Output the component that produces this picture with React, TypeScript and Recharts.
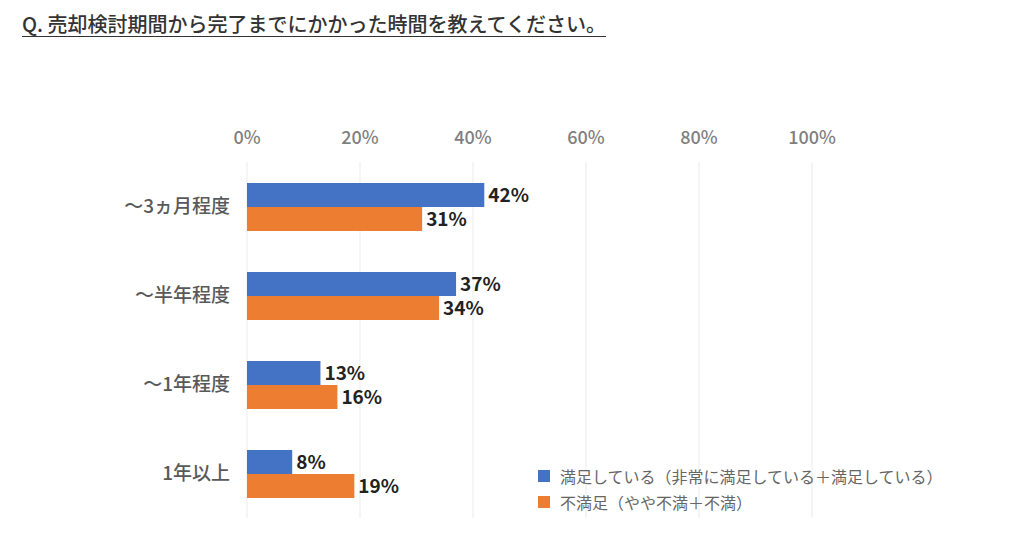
import { BarChart, Bar, XAxis, YAxis, CartesianGrid, LabelList } from 'recharts'

const categories = ['～3ヵ月程度', '～半年程度', '～1年程度', '1年以上']
const satisfied = [0.42, 0.37, 0.13, 0.08]
const unsatisfied = [0.31, 0.34, 0.16, 0.19]
const xTicks = [0, 0.2, 0.4, 0.6, 0.8, 1]

const SERIES = [
  { key: 'satisfied', name: '満足している（非常に満足している＋満足している）', color: '#4472C4' },
  { key: 'unsatisfied', name: '不満足（やや不満＋不満）', color: '#ED7D31' },
]

const data = categories.map((name, i) => ({
  name,
  satisfied: satisfied[i],
  unsatisfied: unsatisfied[i],
}))

const FONT = '"Noto Sans CJK JP", "Noto Sans", sans-serif'
const pct = (v: number) => `${Math.round(v * 100)}%`

// legend sits over the lower right of the plot, outside recharts' layout
function LegendBox() {
  return (
    <div
      style={{
        position: 'absolute',
        left: 538,
        top: 463,
        fontFamily: FONT,
        fontSize: 16,
        color: '#666',
        lineHeight: '26px',
        whiteSpace: 'nowrap',
      }}
    >
      {SERIES.map(s => (
        <div key={s.key} style={{ display: 'flex', alignItems: 'center' }}>
          <span style={{ width: 12, height: 12, background: s.color, marginRight: 10, display: 'inline-block' }} />
          {s.name}
        </div>
      ))}
    </div>
  )
}

export default function App() {
  return (
    <div style={{ position: 'absolute', left: 0, top: 0, width: 1024, height: 538, background: '#fff' }}>
      <div
        style={{
          position: 'absolute',
          left: 22,
          top: 12,
          width: 584,
          fontFamily: FONT,
          fontSize: 20,
          fontWeight: 500,
          color: '#333',
          borderBottom: '1.5px solid #333',
          lineHeight: '24px',
          whiteSpace: 'nowrap',
        }}
      >
        Q. 売却検討期間から完了までにかかった時間を教えてください。
      </div>
      <BarChart
        width={1024}
        height={538}
        data={data}
        layout="vertical"
        margin={{ top: 132, right: 212, bottom: 20, left: 0 }}
        barGap={0}
        barSize={24}
      >
        <CartesianGrid horizontal={false} stroke="#ebebeb" />
        <XAxis
          type="number"
          orientation="top"
          domain={[0, 1]}
          ticks={xTicks}
          tickFormatter={pct}
          axisLine={false}
          tickLine={false}
          tickMargin={12}
          height={30}
          tick={{ fontSize: 18, fill: '#7f7f7f', fontWeight: 500, fontFamily: FONT }}
        />
        <YAxis
          type="category"
          dataKey="name"
          width={247}
          axisLine={false}
          tickLine={false}
          tickMargin={11}
          tick={{ fontSize: 19, fill: '#595959', fontWeight: 500, fontFamily: FONT }}
        />
        {SERIES.map(s => (
          <Bar key={s.key} dataKey={s.key} name={s.name} fill={s.color} isAnimationActive={false}>
            <LabelList
              dataKey={s.key}
              position="right"
              offset={4}
              formatter={(v: number) => pct(v)}
              style={{ fontSize: 19, fill: '#222', fontWeight: 700, fontFamily: FONT }}
            />
          </Bar>
        ))}
      </BarChart>
      <LegendBox />
    </div>
  )
}
